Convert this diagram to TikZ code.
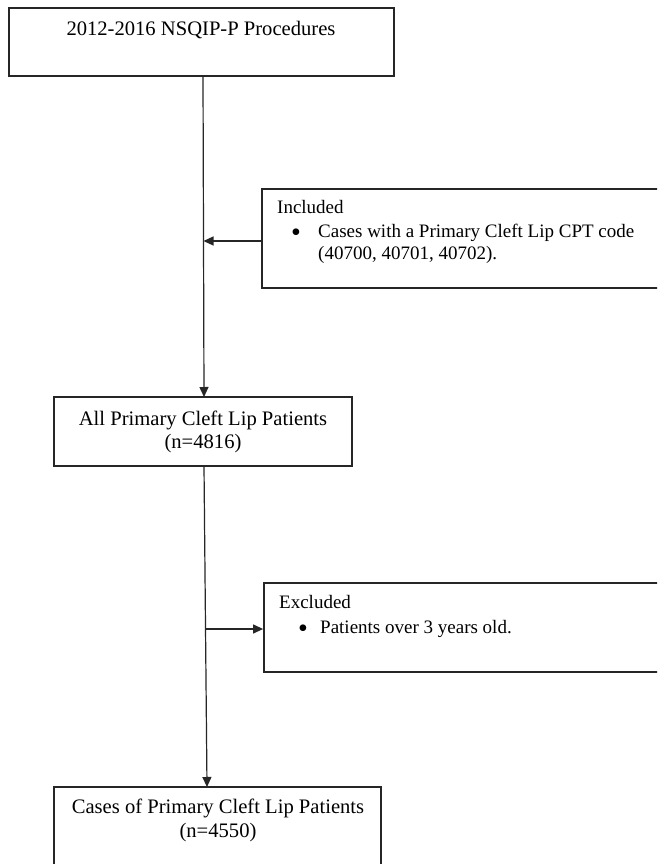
\documentclass[tikz,border=0pt]{standalone}
\usepackage{fontspec}
\setmainfont{Liberation Serif}
\usetikzlibrary{arrows.meta}
\tikzset{
  box/.style={draw=black!85, line width=1.8pt, inner sep=0pt, fill=none},
  conn/.style={draw=black!85, line width=1.2pt},
  arr/.style={conn, -{Triangle[length=10pt,width=9pt]}},
  txt/.style={inner sep=0pt, anchor=base, font=\fontsize{20.6}{24}\selectfont},
  ltxt/.style={inner sep=0pt, anchor=base west, font=\fontsize{19}{22}\selectfont},
  bul/.style={inner sep=0pt, anchor=center, font=\fontsize{28}{28}\selectfont}
}
\begin{document}
\begin{tikzpicture}[x=1pt,y=-1pt]
\clip (0,0) rectangle (657,864);
\fill[white] (0,0) rectangle (657,864);
% boxes
\node[box, minimum width=385pt, minimum height=68pt] (b1) at (201.5,42) {};
\node[box, minimum width=408pt, minimum height=99pt] (inc) at (466,238.5) {};
\node[box, minimum width=298pt, minimum height=69pt] (b2) at (203,431.5) {};
\node[box, minimum width=406pt, minimum height=89pt] (exc) at (467,627.5) {};
\node[box, minimum width=327pt, minimum height=83pt] (b3) at (217.5,828.5) {};
% texts
\node[txt] (t1) at (201,36) {2012-2016 NSQIP-P Procedures};
\node[ltxt] (ti) at (277,213) {Included};
\node[bul] (tib) at (296,235) {•};
\node[ltxt] (ti1) at (318,237) {Cases with a Primary Cleft Lip CPT code};
\node[ltxt] (ti2) at (318,259) {(40700, 40701, 40702).};
\node[txt] (t2a) at (203,425) {All Primary Cleft Lip Patients};
\node[txt] (t2b) at (203,448) {(n=4816)};
\node[ltxt] (te) at (279,608) {Excluded};
\node[bul] (teb) at (303,631) {•};
\node[ltxt] (te1) at (320,633) {Patients over 3 years old.};
\node[txt] (t3a) at (218,813) {Cases of Primary Cleft Lip Patients};
\node[txt] (t3b) at (218,837) {(n=4550)};
% connector points
\coordinate (s1) at (203,76);
\coordinate (e1) at (204,397);
\coordinate (j1) at (203.5,241);
\coordinate (s2) at (204,466);
\coordinate (e2) at (207,787);
\coordinate (j2) at (205.5,629);
% connectors
\draw[arr] (s1) -- (e1);
\draw[arr] (j1 -| inc.west) -- (j1);
\draw[arr] (s2) -- (e2);
\draw[arr] (j2) -- (j2 -| exc.west);
\end{tikzpicture}
\end{document}
